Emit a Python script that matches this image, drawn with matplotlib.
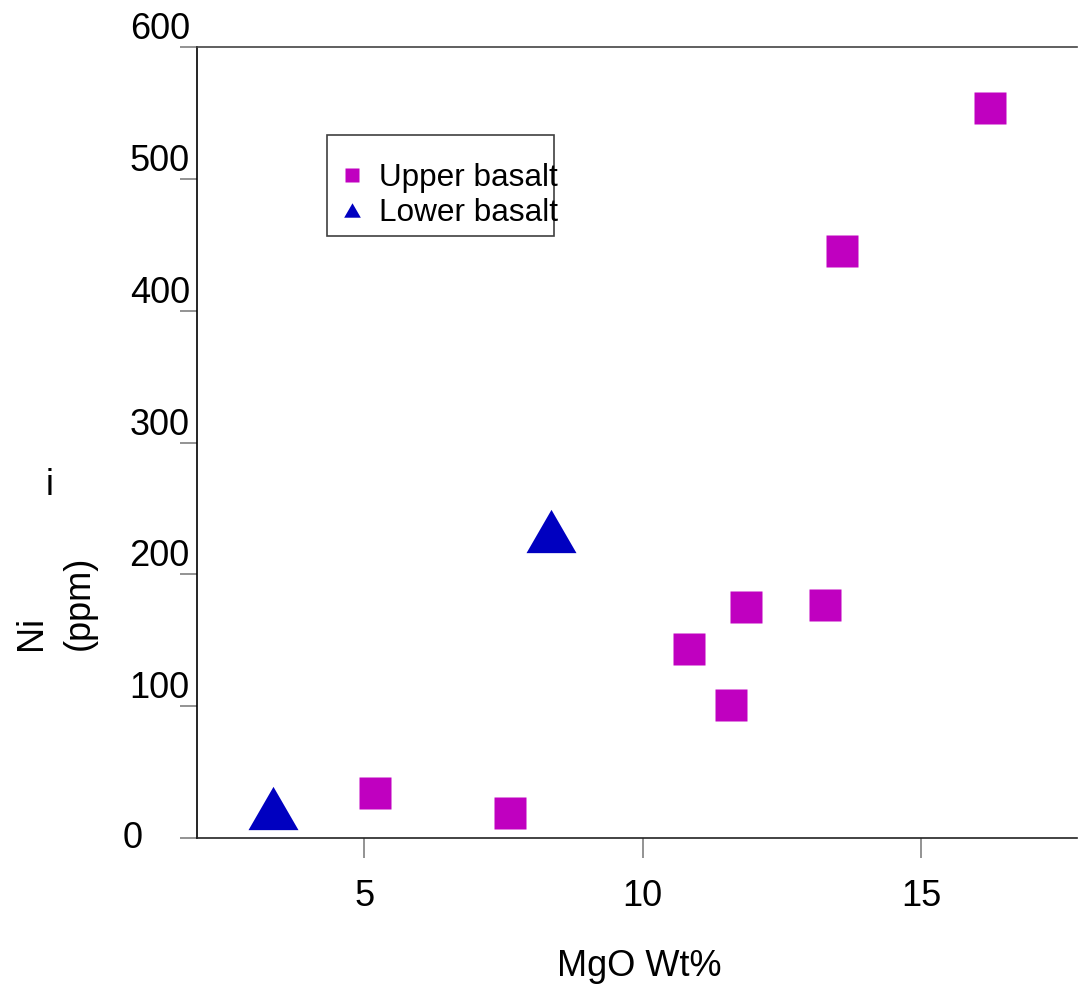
import numpy as np
import matplotlib
matplotlib.use("Agg")
import matplotlib.pyplot as plt
import matplotlib.transforms as mtransforms
from matplotlib.patches import Rectangle

plt.rcParams['font.family'] = ['Liberation Sans', 'DejaVu Sans']

# Upper basalt
upper_mgo = [16.24, 13.58, 11.86, 13.28, 10.83, 11.59, 5.2, 7.62]
upper_ni = [554, 445, 175, 177, 143, 101, 34, 19]
# Lower basalt
lower_mgo = [3.37, 8.36]
lower_ni = [23, 233]

xticks = [5, 10, 15]
yticks = [0, 100, 200, 300, 400, 500, 600]

fig = plt.figure(figsize=(10.79, 9.88), dpi=100)
ax = fig.add_axes([197/1079, 150/988, 880/1079, 791/988])

tri = [(0, 0.866), (-1, -0.866), (1, -0.866)]
ax.plot(upper_mgo, upper_ni, ls='none', marker='s', ms=23, color='#C000C0',
        mec='none', label='Upper basalt', clip_on=False)
ax.plot(lower_mgo, lower_ni, ls='none', marker=tri, ms=36, color='#0000C0',
        mec='none', label='Lower basalt', clip_on=False)

ax.set_xlim(2.0, 17.8)
ax.set_ylim(0, 600)
ax.set_xticks(xticks)
ax.set_yticks(yticks)

ax.spines['right'].set_visible(False)
ax.spines['left'].set_color('black')
ax.spines['top'].set_color('#444444')
ax.spines['bottom'].set_color('#222222')
for s in ['left', 'top', 'bottom']:
    ax.spines[s].set_linewidth(1.2)

ax.tick_params(axis='x', direction='out', length=14.4, width=1.2, color='#808080',
               pad=15, labelsize=26)
ax.tick_params(axis='y', direction='out', length=12.2, width=1.2, color='#808080',
               pad=-7, labelsize=26)
for lab in ax.get_yticklabels():
    lab.set_verticalalignment('bottom')
ax.get_yticklabels()[0].set_verticalalignment('center')
# "0" sits further left than the others
ylabs = ax.yaxis.get_major_ticks()
ylabs[0].label1.set_transform(ylabs[0].label1.get_transform() +
                              mtransforms.ScaledTranslation(-47/100, 0, fig.dpi_scale_trans))

ax.set_xlabel('MgO Wt%', fontsize=26, va='top')
ax.xaxis.set_label_coords(0.503, -0.140)
ax.set_ylabel('Ni\n(ppm)', fontsize=26, rotation=90, ha='center', va='center',
              multialignment='left', linespacing=1.5)
ax.yaxis.set_label_coords(-0.161, 0.297)
fig.text(50/1079, 1 - 485/988, 'i', fontsize=26, ha='center', va='center')

# legend frame drawn separately (text runs past it in the original)
ax.add_patch(Rectangle((0.1477, 0.761), 0.258, 0.1277, transform=ax.transAxes,
                       facecolor='white', edgecolor='#404040', lw=1.2, zorder=4,
                       clip_on=False))
leg = ax.legend(loc='upper left', bbox_to_anchor=(0.168, 0.853), borderaxespad=0,
                fontsize=22.7, frameon=False, borderpad=0, labelspacing=0.15,
                handlelength=0.44, handletextpad=0.63)
leg.set_zorder(5)
hs = leg.legend_handles
hs[0].set_markersize(10)
hs[1].set_markersize(12)

fig.savefig('out.png', dpi=100)
